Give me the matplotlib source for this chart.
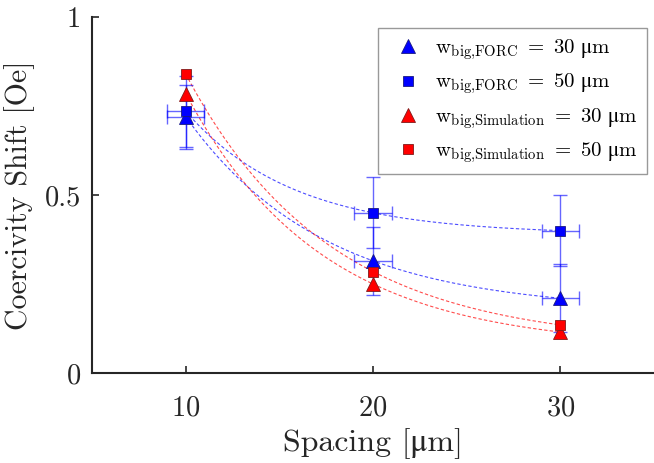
import numpy as np
import matplotlib.pyplot as plt

plt.rcParams['font.family'] = ['cmr10', 'STIXGeneral']
plt.rcParams['mathtext.fontset'] = 'custom'
plt.rcParams['mathtext.rm'] = 'cmr10'
plt.rcParams['mathtext.it'] = 'cmmi10'
plt.rcParams['mathtext.fallback'] = 'stix'
plt.rcParams['axes.formatter.use_mathtext'] = True

# datos
spacing = [10, 20, 30]
forc_30 = [0.72, 0.315, 0.21]
forc_50 = [0.735, 0.45, 0.40]
sim_30 = [0.785, 0.25, 0.115]
sim_50 = [0.84, 0.285, 0.135]
err_forc_30 = [0.09, 0.095, 0.095]
err_forc_50 = [0.10, 0.10, 0.10]
err_x = [1.0, 1.0, 1.0]

MU = '\u03bc'


def ajuste_exp(x, y):
    # curva a + b*exp(-k x) que pasa por los tres puntos
    x = np.array(x, float)
    y = np.array(y, float)
    r = (y[2] - y[1]) / (y[1] - y[0])
    k = -np.log(r) / (x[1] - x[0])
    b = (y[1] - y[0]) / (np.exp(-k * x[1]) - np.exp(-k * x[0]))
    a = y[0] - b * np.exp(-k * x[0])
    xs = np.linspace(x[0], x[2], 200)
    return xs, a + b * np.exp(-k * xs)


fig = plt.figure(figsize=(6.54, 4.63), dpi=100)
ax = fig.add_axes([0.1407, 0.1944, 0.8593, 0.7689])

# curvas de ajuste
for y, c in [(forc_30, 'blue'), (forc_50, 'blue'), (sim_30, 'red'), (sim_50, 'red')]:
    xs, ys = ajuste_exp(spacing, y)
    ax.plot(xs, ys, '--', color=c, lw=0.8, alpha=0.7, dashes=(3, 2))

# barras de error
ax.errorbar(spacing, forc_30, yerr=err_forc_30, xerr=err_x, fmt='none',
            ecolor='blue', elinewidth=1, capsize=5, alpha=0.6)
ax.errorbar(spacing, forc_50, yerr=err_forc_50, xerr=err_x, fmt='none',
            ecolor='blue', elinewidth=1, capsize=5, alpha=0.6)


def etiqueta(sub, w):
    sub = sub.replace(',', '{,}')
    return (r'$\mathrm{w}_{\mathrm{' + sub + r'}}\ =\ \mathrm{' + str(w)
            + r'\ ' + MU + r'm}$')


ax.plot(spacing, forc_30, '^', color='blue', ms=10, mec='#1a1a80', mew=0.6,
        label=etiqueta('big,FORC', 30))
ax.plot(spacing, forc_50, 's', color='blue', ms=7, mec='#1a1a80', mew=0.6,
        label=etiqueta('big,FORC', 50))
ax.plot(spacing, sim_30, '^', color='red', ms=10, mec='#801a1a', mew=0.6,
        label=etiqueta('big,Simulation', 30))
ax.plot(spacing, sim_50, 's', color='red', ms=7, mec='#801a1a', mew=0.6,
        label=etiqueta('big,Simulation', 50))

ax.set_xlim(5, 35)
ax.set_ylim(0, 1)
ax.set_xticks([10, 20, 30])
ax.set_yticks([0, 0.5, 1])
ax.set_yticklabels(['0', '0.5', '1'])
ax.tick_params(direction='in', length=5, width=1.2, labelsize=20.5, colors='#262626')
ax.tick_params(axis='x', pad=16)
ax.tick_params(axis='y', pad=8)
for s in ['top', 'right']:
    ax.spines[s].set_visible(False)
for s in ['left', 'bottom']:
    ax.spines[s].set_linewidth(1.5)
    ax.spines[s].set_color('#262626')

ax.set_xlabel(f'Spacing [{MU}m]', fontsize=23, color='#262626', labelpad=5)
ax.set_ylabel('Coercivity Shift [Oe]', fontsize=21.5, color='#262626', labelpad=7)

leg = ax.legend(loc='upper right', bbox_to_anchor=(0.9875, 0.969), fontsize=15,
                frameon=True, fancybox=False, edgecolor='#808080',
                handletextpad=0.3, borderpad=0.45, labelspacing=0.45,
                borderaxespad=0)
leg.get_frame().set_linewidth(1.0)

fig.savefig('out.png', dpi=100)
